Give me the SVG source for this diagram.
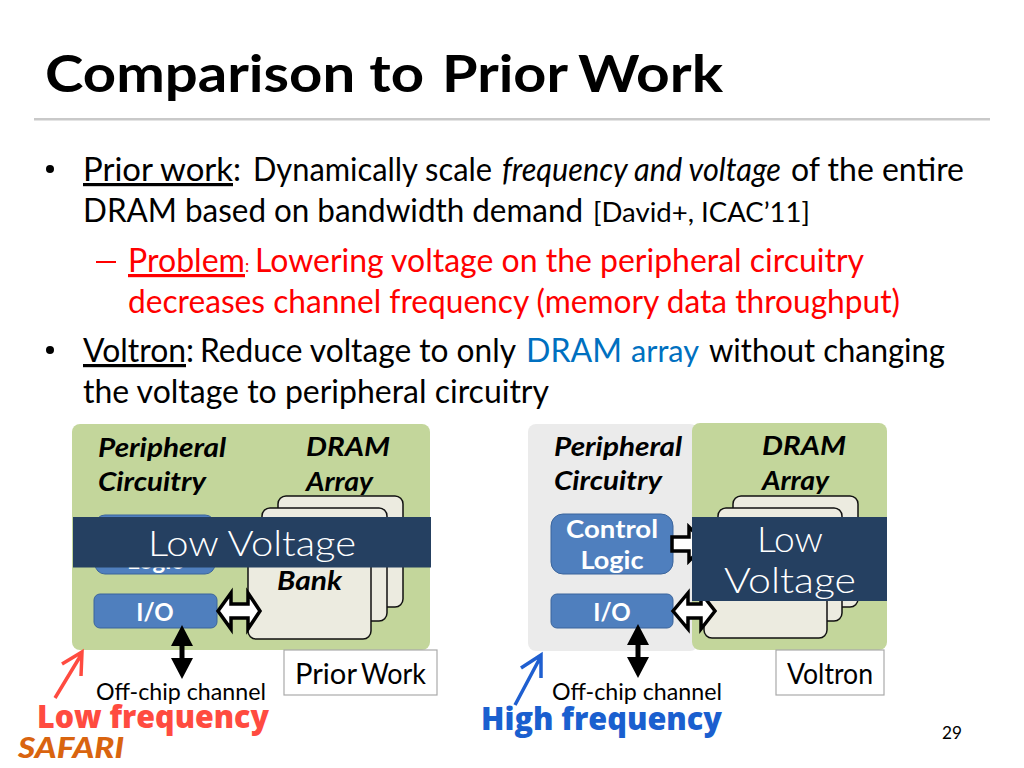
<svg xmlns="http://www.w3.org/2000/svg" width="1024" height="768" viewBox="0 0 1024 768">
<style>
text{font-family:Lato,"Open Sans","Liberation Sans",sans-serif;fill:#000}
.t{font-size:51px;font-weight:700}
.b{font-size:32px}
.r{fill:#f00}
.h{font-weight:700;font-style:italic;font-size:27px}
.w{fill:#fff;font-weight:700;font-size:24px;text-anchor:middle}
.lv{fill:#fff;font-size:36px;font-weight:300;text-anchor:middle}
.cbox{fill:#4f7fbe;stroke:#3b659c;stroke-width:1}
.bank{fill:#ecebe0;stroke:#111;stroke-width:1.500}
.lab{fill:#fff;stroke:#aaa;stroke-width:1.200}
.oc{font-size:24px;text-anchor:middle}
.wa{fill:#fff;stroke:#000;stroke-width:3.500}
.ba{fill:#000}
.freq{font-family:"Open Sans","Noto Sans",sans-serif;font-weight:800;font-size:31px}
</style>
<g id="title">
<text class="t" x="45" y="92" textLength="379" lengthAdjust="spacingAndGlyphs">Comparison to</text>
<text class="t" x="442" y="92" textLength="126" lengthAdjust="spacingAndGlyphs">Prior</text>
<text class="t" x="578" y="92" textLength="145" lengthAdjust="spacingAndGlyphs">Work</text>
<rect x="34" y="118" width="956" height="2.500" fill="#c9c9c9"/></g>
<g id="bullets">
<circle cx="50" cy="169" r="4"/>
<text class="b" x="83" y="181" textLength="150" lengthAdjust="spacingAndGlyphs" text-decoration="underline">Prior work</text>
<text class="b" x="233" y="181">:</text>
<text class="b" x="253" y="181" textLength="239" lengthAdjust="spacingAndGlyphs">Dynamically scale</text>
<text class="b" x="502" y="181" font-style="italic" textLength="279" lengthAdjust="spacingAndGlyphs">frequency and voltage</text>
<text class="b" x="791" y="181" textLength="173" lengthAdjust="spacingAndGlyphs">of the entire</text>
<text class="b" x="83" y="222" textLength="500" lengthAdjust="spacingAndGlyphs">DRAM based on bandwidth demand</text>
<text x="593" y="222" font-size="27" textLength="217" lengthAdjust="spacingAndGlyphs">[David+, ICAC’11]</text>
<rect x="96" y="261" width="20" height="2" fill="#f00"/>
<text class="b r" x="128" y="272" textLength="117" lengthAdjust="spacingAndGlyphs" text-decoration="underline">Problem</text>
<text class="r" x="245" y="272" font-size="17">:</text>
<text class="b r" x="255" y="272" textLength="609" lengthAdjust="spacingAndGlyphs">Lowering voltage on the peripheral circuitry</text>
<text class="b r" x="128" y="313" textLength="772" lengthAdjust="spacingAndGlyphs">decreases channel frequency (memory data throughput)</text>
<circle cx="50" cy="350" r="4"/>
<text class="b" x="83" y="362" textLength="103" lengthAdjust="spacingAndGlyphs" text-decoration="underline">Voltron</text>
<text class="b" x="186" y="362">:</text>
<text class="b" x="200" y="362" textLength="316" lengthAdjust="spacingAndGlyphs">Reduce voltage to only</text>
<text class="b" x="526" y="362" style="fill:#0070c0" textLength="96" lengthAdjust="spacingAndGlyphs">DRAM</text>
<text class="b" x="631" y="362" style="fill:#0070c0;font-size:30px" textLength="68" lengthAdjust="spacingAndGlyphs">array</text>
<text class="b" x="709" y="362" textLength="236" lengthAdjust="spacingAndGlyphs">without changing</text>
<text class="b" x="83" y="403" textLength="466" lengthAdjust="spacingAndGlyphs">the voltage to peripheral circuitry</text>
</g>
<g id="prior-work-diagram">
<rect x="72" y="424" width="358" height="226" rx="8" fill="#c3d69b"/>
<text class="h" x="98" y="457" textLength="128" lengthAdjust="spacingAndGlyphs">Peripheral</text>
<text class="h" x="98" y="491" textLength="108" lengthAdjust="spacingAndGlyphs">Circuitry</text>
<text class="h" x="306" y="456" textLength="84" lengthAdjust="spacingAndGlyphs">DRAM</text>
<text class="h" x="306" y="491" textLength="67" lengthAdjust="spacingAndGlyphs">Array</text>
<rect class="bank" x="278" y="496" width="125" height="111" rx="8"/>
<rect class="bank" x="262" y="508" width="125" height="113" rx="8"/>
<rect class="bank" x="248" y="520" width="123" height="119" rx="8"/>
<text class="h" x="277" y="590" textLength="65" lengthAdjust="spacingAndGlyphs">Bank</text>
<rect class="cbox" x="95" y="515" width="120" height="59" rx="10"/>
<text class="w" x="155" y="569">Logic</text>
<rect class="cbox" x="94" y="594" width="123" height="34" rx="6"/>
<text class="w" x="155" y="621">I/O</text>
<rect x="73" y="517" width="358" height="50.500" fill="#254061"/>
<text class="lv" x="252" y="556" textLength="208" lengthAdjust="spacingAndGlyphs">Low Voltage</text>
<rect class="lab" x="284" y="650" width="153" height="45"/>
<text x="295" y="684" font-size="28" textLength="62" lengthAdjust="spacingAndGlyphs">Prior</text>
<text x="361" y="684" font-size="28" textLength="65" lengthAdjust="spacingAndGlyphs">Work</text>
<text class="oc" x="181" y="700" textLength="170" lengthAdjust="spacingAndGlyphs">Off-chip channel</text>
<path class="ba" d="M182 625l11 21h-8.500v12h8.500l-11 21-11-21h8.500v-12h-8.500z"/>
<path class="wa" d="M218 611l13-18v11h17v-11l12 18-12 18v-11h-17v11z"/>
<path d="M55 698L81 655M62 664L82 652L81 676" fill="none" stroke="#ff4b40" stroke-width="3.500"/>
<text class="freq" x="37" y="728" style="fill:#ff4b40" textLength="232" lengthAdjust="spacingAndGlyphs">Low frequency</text>
</g>
<g id="voltron-diagram">
<rect x="528" y="424" width="170" height="227" rx="8" fill="#ebebeb"/>
<rect x="692" y="423" width="195" height="227" rx="8" fill="#c3d69b"/>
<text class="h" x="554" y="456" textLength="128" lengthAdjust="spacingAndGlyphs">Peripheral</text>
<text class="h" x="554" y="490" textLength="108" lengthAdjust="spacingAndGlyphs">Circuitry</text>
<text class="h" x="762" y="455" textLength="84" lengthAdjust="spacingAndGlyphs">DRAM</text>
<text class="h" x="762" y="490" textLength="67" lengthAdjust="spacingAndGlyphs">Array</text>
<rect class="bank" x="733" y="496" width="125" height="111" rx="8"/>
<rect class="bank" x="718" y="508" width="124" height="113" rx="8"/>
<rect class="bank" x="704" y="520" width="123" height="118" rx="8"/>
<rect class="cbox" x="551" y="514" width="122" height="60" rx="12"/>
<text class="w" x="612" y="538" textLength="92" lengthAdjust="spacingAndGlyphs">Control</text>
<text class="w" x="612" y="569" textLength="63" lengthAdjust="spacingAndGlyphs">Logic</text>
<rect class="cbox" x="551" y="594" width="122" height="34" rx="6"/>
<text class="w" x="612" y="621">I/O</text>
<path class="wa" d="M672 537h17v-10l17 17-17 17v-10h-17z"/>
<path class="wa" d="M673 611l15-18v11h13v-11l14 18-14 18v-11h-13v11z"/>
<rect x="692" y="517" width="195" height="84" fill="#254061"/>
<text class="lv" x="790" y="552" textLength="66" lengthAdjust="spacingAndGlyphs">Low</text>
<text class="lv" x="790" y="593" textLength="132" lengthAdjust="spacingAndGlyphs">Voltage</text>
<rect class="lab" x="776" y="650" width="108" height="45"/>
<text x="787" y="684" font-size="28" textLength="86" lengthAdjust="spacingAndGlyphs">Voltron</text>
<text class="oc" x="637" y="700" textLength="170" lengthAdjust="spacingAndGlyphs">Off-chip channel</text>
<path class="ba" d="M638 624l11 21h-8.500v12h8.500l-11 21-11-21h8.500v-12h-8.500z"/>
<path d="M515 705L540 658M521 668L541 655L541 678" fill="none" stroke="#1f5fd0" stroke-width="3.500"/>
<text class="freq" x="481" y="730" style="fill:#1a5fcf" textLength="241" lengthAdjust="spacingAndGlyphs">High frequency</text>
</g>
<g id="footer">
<text x="18" y="758" style="fill:#d9640f" font-weight="900" font-style="italic" font-size="28" textLength="106" lengthAdjust="spacingAndGlyphs">SAFARI</text>
<text x="942" y="739" font-size="18" textLength="20" lengthAdjust="spacingAndGlyphs">29</text>
</g>
</svg>
